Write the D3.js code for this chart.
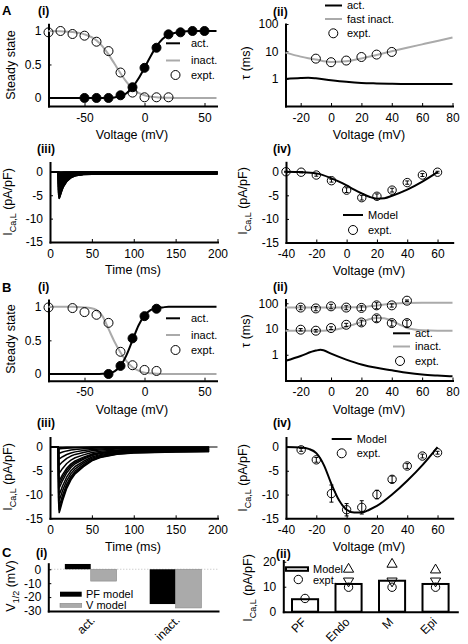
<!DOCTYPE html>
<html><head><meta charset="utf-8">
<script src="https://cdn.jsdelivr.net/npm/d3@7"></script>
<style>
body{margin:0;background:#fff;}
svg{font-family:"Liberation Sans",Arial,Helvetica,sans-serif;}
</style></head><body>
<svg id="fig" width="468" height="644"></svg>
<script>
// ================= DATA =================
// A(i) steady state
const a1InactV = [-80,-70,-60,-50,-40,-30,-20,-10,0,10,20];
const a1InactExpt = [0.98,1.0,0.955,0.93,0.84,0.70,0.38,0.08,0.01,0.01,0.01];
const a1ActV = [-50,-40,-30,-20,-10,0,10,20,30,40,50];
const a1ActExpt = [0,0,0,0.04,0.16,0.45,0.75,0.95,0.98,1.0,1.0];
const a1CurveV = [-80,-70,-60,-50,-40,-35,-30,-25,-20,-15,-10,-5,0,5,10,15,20,25,30,40,50,60];
const a1ActModel = [0,0,0,0,0,0,0.002,0.008,0.025,0.07,0.16,0.29,0.45,0.62,0.77,0.88,0.94,0.97,0.99,1,1,1];
const a1InactModel = [1,0.995,0.985,0.95,0.86,0.77,0.65,0.51,0.37,0.24,0.14,0.075,0.04,0.02,0.01,0.005,0.002,0,0,0,0,0];
// A(ii) time constants
const a2CurveV = [-30,-20,-15,-10,0,10,20,30,40,50,60,70,80];
const a2ActModel = [0.97,1.05,1.07,1.03,0.88,0.77,0.70,0.67,0.65,0.64,0.64,0.64,0.64];
const a2InactModel = [9,6.4,5.6,5,4.1,4.3,5.5,7.4,10,13.5,18,24,32];
const a2ExptV = [-10,0,10,20,30,40];
const a2Expt = [5.4,4.0,4.6,6.2,7.6,9.5];
// A(iii) current traces
const a3Peaks = [-0.1,-0.35,-0.8,-1.4,-2.1,-2.9,-3.8,-4.6,-5.3,-5.7,-5.6,-5.1,-4.5,-3.8,-3.0,-2.1,-1.1];
const a3Time = [10,10.3,11,12,14,16,20,25,30,40,60,200];
const a3Shape = [0,0.85,1,0.92,0.72,0.56,0.36,0.22,0.15,0.1,0.08,0.08];
// A(iv) I-V
const a4ExptV = [-40,-30,-20,-10,0,10,20,30,40,50,60];
const a4Expt = [0,-0.1,-0.7,-1.9,-3.9,-5.5,-5.2,-3.9,-2.3,-0.7,-0.1];
const a4Err = [0.1,0.15,0.25,0.3,0.5,0.5,0.5,0.4,0.35,0.3,0.2];
const a4ModelV = [-40,-30,-20,-10,-5,0,5,10,15,20,25,30,40,50,60];
const a4Model = [0,-0.08,-0.35,-1.4,-2.1,-2.9,-3.8,-4.6,-5.3,-5.7,-5.6,-5.1,-3.8,-2.1,-0.1];
// B(i)
const b1InactV = [-80,-60,-50,-40,-30,-20,-10,0,10];
const b1InactExpt = [0.99,0.98,0.92,0.88,0.76,0.33,0.13,0.06,0.045];
const b1ActV = [-30,-20,-10,0,10];
const b1ActExpt = [0,0.12,0.53,0.86,0.97];
const b1CurveV = [-80,-60,-50,-45,-40,-35,-30,-25,-20,-15,-10,-5,0,5,10,15,20,30,60];
const b1ActModel = [0,0,0,0,0,0.003,0.012,0.04,0.12,0.28,0.5,0.72,0.87,0.95,0.98,0.99,1,1,1];
const b1InactModel = [1,1,0.99,0.98,0.95,0.86,0.67,0.48,0.32,0.19,0.1,0.05,0.02,0.01,0.005,0,0,0,0];
// B(ii)
const b2ActV = [-30,-20,-10,-7,-5,0,10,20,30,40,50,60,70,80];
const b2ActModel = [0.58,0.9,1.45,1.55,1.5,1.1,0.65,0.42,0.31,0.25,0.2,0.17,0.155,0.145];
const b2SlowV = [-30,-10,0,10,20,30,40,50,60,80];
const b2SlowModel = [68,68,68,69,72,82,95,102,104,104];
const b2FastV = [-30,-10,0,5,10,15,20,25,30,35,40,45,50,55,60,70,80];
const b2FastModel = [8.6,8.6,9,10,12,15,19,24,27,26,21,15,11,9.5,8.9,8.6,8.6];
const b2ExptV = [-20,-10,0,10,20,30,40,50];
const b2SlowExpt = [68,63,76,68,66,83,83,126];
const b2SlowErr = [12,12,15,12,14,22,12,8];
const b2FastExpt = [9.4,8.6,10.9,14.6,18,26,17,17];
const b2FastErr = [1.0,1.0,1.3,2,4,7,4,5];
// B(iii)
const b3Peaks = [-0.1,-0.4,-1.3,-2.5,-3.8,-5.5,-7.1,-7.8,-8.6,-10,-11.2,-12.4,-13.2,-13.8];
const b3Time = [10,10.3,11,12,15,20,25,30,40,50,60,80,100,150,190];
const b3Shape = [0,0.85,1,0.96,0.82,0.63,0.5,0.41,0.3,0.21,0.16,0.11,0.09,0.075,0.07];
// B(iv)
const b4ExptV = [-30,-20,-10,0,10,20,30,40,50,60];
const b4Expt = [-0.6,-2.7,-9.8,-13.2,-12.7,-10,-6.8,-4.0,-1.9,-1.2];
const b4Err = [0.3,0.5,1.8,1.3,1.4,0.9,0.7,0.5,0.4,0.3];
const b4ModelV = [-40,-30,-25,-20,-15,-10,-5,0,5,10,15,20,30,40,50,60];
const b4Model = [0,-0.1,-0.4,-1.3,-3.8,-7.8,-11.2,-13.2,-13.8,-13.8,-13.2,-12.4,-10,-7.1,-3.8,0];
// C(i)
const c1Cats = ["act.","inact."];
const c1PF = [3.8,-25];
const c1V = [-8.5,-27.8];
// C(ii)
const c2Cats = ["PF","Endo","M","Epi"];
const c2Model = [5,11.1,12.4,11.1];
const c2ExptCircle = [5.3,9.8,9.8,9.8];
const c2ExptTriUp = [null,17,19,16.7];
const c2ExptTriDown = [null,12.3,12.3,12.3];

// ================= DRAWING =================
const svg = d3.select("#fig");
const F = '"Liberation Sans", Arial, Helvetica, sans-serif';
const GRAY = "#aaaaaa";
const TICK_FS = 12, LAB_FS = 12.5, LEG_FS = 11;

function styleAxis(g){
  g.attr("font-family",F).attr("font-size",TICK_FS);
  g.select(".domain").attr("stroke","#000").attr("stroke-width",2).attr("stroke-linecap","square");
  g.selectAll(".tick line").attr("stroke","#000").attr("stroke-width",1);
  g.selectAll(".tick text").attr("fill","#000");
}
function axes(x, y, xt, yt){
  const gx = svg.append("g").attr("transform",`translate(0,${y.range()[0]})`)
    .call(d3.axisBottom(x).tickValues(xt).tickFormat(d=>String(d)).tickSizeInner(-3).tickSizeOuter(0).tickPadding(7));
  styleAxis(gx);
  const gy = svg.append("g").attr("transform",`translate(${x.range()[0]},0)`)
    .call(d3.axisLeft(y).tickValues(yt).tickFormat(d=>String(d)).tickSizeInner(-3).tickSizeOuter(0).tickPadding(7));
  styleAxis(gy);
}
function curve(x,y,xs,ys,color,w,smooth=true){
  svg.append("path").datum(xs.map((v,i)=>[v,ys[i]]))
    .attr("d", d3.line().x(d=>x(d[0])).y(d=>y(d[1])).curve(smooth?d3.curveMonotoneX:d3.curveLinear))
    .attr("fill","none").attr("stroke",color).attr("stroke-width",w).attr("stroke-linejoin","round");
}
function dots(x,y,xs,ys,filled,r=4.5){
  svg.append("g").selectAll("circle").data(xs.map((v,i)=>[v,ys[i]])).join("circle")
    .attr("cx",d=>x(d[0])).attr("cy",d=>y(d[1])).attr("r",r)
    .attr("fill",filled?"#000":"none").attr("stroke","#000").attr("stroke-width",1);
}
function errbars(x,y,xs,ys,es){
  const g = svg.append("g").attr("stroke","#000").attr("stroke-width",1);
  xs.forEach((v,i)=>{
    const cx=x(v), y1=y(ys[i]-es[i]), y2=y(ys[i]+es[i]);
    g.append("line").attr("x1",cx).attr("x2",cx).attr("y1",y1).attr("y2",y2);
    g.append("line").attr("x1",cx-2).attr("x2",cx+2).attr("y1",y1).attr("y2",y1);
    g.append("line").attr("x1",cx-2).attr("x2",cx+2).attr("y1",y2).attr("y2",y2);
  });
}
function txt(x,y,s,fs,opts={}){
  const t = svg.append("text").attr("x",x).attr("y",y).attr("font-size",fs).attr("font-family",F)
    .attr("fill","#000").text(s);
  if(opts.bold) t.attr("font-weight","bold");
  if(opts.anchor) t.attr("text-anchor",opts.anchor);
  if(opts.dy) t.attr("dy",opts.dy);
  return t;
}
function ylab(x,y,parts){
  const t = svg.append("text").attr("transform",`translate(${x},${y}) rotate(-90)`)
    .attr("text-anchor","middle").attr("font-family",F).attr("font-size",LAB_FS).attr("fill","#000");
  parts.forEach(p=>{
    const ts = t.append("tspan").text(p.t);
    if(p.sub){ ts.attr("font-size",9).attr("dy",4); }
    else if(p.back){ ts.attr("dy",-4); }
  });
}
function diagLabel(x,y,s){
  svg.append("g").attr("transform",`translate(${x},${y})`)
    .append("text").attr("transform","rotate(-45)")
    .attr("text-anchor","end").attr("font-family",F).attr("font-size",TICK_FS).attr("fill","#000").text(s);
}
function legLine(x1,x2,y,color,label,tx){
  svg.append("line").attr("x1",x1).attr("x2",x2).attr("y1",y).attr("y2",y).attr("stroke",color).attr("stroke-width",2);
  txt(tx,y,label,LEG_FS,{dy:"0.35em"});
}
function legCircle(cx,y,label,tx){
  svg.append("circle").attr("cx",cx).attr("cy",y).attr("r",4.5).attr("fill","none").attr("stroke","#000");
  txt(tx,y,label,LEG_FS,{dy:"0.35em"});
}
function traces(x,y,peaks,times,shape,end){
  peaks.forEach(p=>{
    const xs=[0].concat(times), ys=[0].concat(shape.map(s=>s*p));
    curve(x,y,xs,ys,"#000",1.5,false);
  });
  curve(x,y,[0,end],[0,0],"#000",1.2,false);
}

// ---------- A(i) ----------
{
  const x = d3.scaleLinear().domain([-80,60]).range([48.5,216.5]);
  const y = d3.scaleLinear().domain([-0.12,1.1]).range([106,24.3]);
  axes(x,y,[-50,0,50],[0,0.5,1]);
  curve(x,y,a1CurveV,a1InactModel,GRAY,2);
  curve(x,y,a1CurveV,a1ActModel,"#000",2);
  dots(x,y,a1InactV,a1InactExpt,false);
  dots(x,y,a1ActV,a1ActExpt,true);
  legLine(166,180,43.3,"#000","act.",191);
  legLine(166,180,60.5,GRAY,"inact.",191);
  legCircle(175.5,75,"expt.",191);
  txt(132,139,"Voltage (mV)",LAB_FS,{anchor:"middle"});
  ylab(15,65,[{t:"Steady state"}]);
  txt(2,15,"A",13,{bold:true});
  txt(38,15,"(i)",12,{bold:true});
}
// ---------- A(ii) ----------
{
  const x = d3.scaleLinear().domain([-30,80]).range([285.5,452.5]);
  const y = d3.scaleLog().domain([0.1,100]).range([106,24]);
  axes(x,y,[-20,0,20,40,60,80],[1,10,100]);
  curve(x,y,a2CurveV,a2InactModel,GRAY,2);
  curve(x,y,a2CurveV,a2ActModel,"#000",2);
  dots(x,y,a2ExptV,a2Expt,false);
  legLine(325,342,5.5,"#000","act.",347);
  legLine(325,342,19,GRAY,"fast inact.",347);
  legCircle(333.3,33.3,"expt.",347);
  txt(369,139,"Voltage (mV)",LAB_FS,{anchor:"middle"});
  ylab(250,63,[{t:"τ (ms)"}]);
  txt(273,16,"(ii)",12,{bold:true});
}
// ---------- A(iii) ----------
{
  const x = d3.scaleLinear().domain([0,200]).range([50,217.5]);
  const y = d3.scaleLinear().domain([-15,2]).range([242,162.5]);
  axes(x,y,[0,50,100,150,200],[0,-5,-10,-15]);
  const big = d3.min(a3Peaks);
  svg.append("path").datum(a3Time.map((t,i)=>[t,a3Shape[i]*big]))
    .attr("d",d3.area().x(d=>x(d[0])).y0(y(0)).y1(d=>y(d[1])))
    .attr("fill","#000");
  traces(x,y,a3Peaks,a3Time,a3Shape,200);
  txt(133,274,"Time (ms)",LAB_FS,{anchor:"middle"});
  ylab(12,202,[{t:"I"},{t:"Ca,L",sub:true},{t:" (pA/pF)",back:true}]);
  txt(37,153,"(iii)",12,{bold:true});
}
// ---------- A(iv) ----------
{
  const x = d3.scaleLinear().domain([-40,70]).range([286,452.7]);
  const y = d3.scaleLinear().domain([-15,2]).range([242.5,162.3]);
  axes(x,y,[-40,-20,0,20,40,60],[0,-5,-10,-15]);
  curve(x,y,a4ModelV,a4Model,"#000",2);
  errbars(x,y,a4ExptV,a4Expt,a4Err);
  dots(x,y,a4ExptV,a4Expt,false,4.2);
  legLine(343,363,215,"#000","Model",368);
  legCircle(353,230,"expt.",368);
  txt(369,275,"Voltage (mV)",LAB_FS,{anchor:"middle"});
  ylab(246.5,201,[{t:"I"},{t:"Ca,L",sub:true},{t:" (pA/pF)",back:true}]);
  txt(273,153,"(iv)",12,{bold:true});
}
// ---------- B(i) ----------
{
  const x = d3.scaleLinear().domain([-80,60]).range([48.5,216.5]);
  const y = d3.scaleLinear().domain([-0.1,1.1]).range([380.7,300]);
  axes(x,y,[-50,0,50],[0,0.5,1]);
  curve(x,y,b1CurveV,b1InactModel,GRAY,2);
  curve(x,y,b1CurveV,b1ActModel,"#000",2);
  dots(x,y,b1InactV,b1InactExpt,false);
  dots(x,y,b1ActV,b1ActExpt,true);
  legLine(166,180,318.3,"#000","act.",191);
  legLine(166,180,335,GRAY,"inact.",191);
  legCircle(175.5,350,"expt.",191);
  txt(132,414,"Voltage (mV)",LAB_FS,{anchor:"middle"});
  ylab(15,339,[{t:"Steady state"}]);
  txt(2,292,"B",13,{bold:true});
  txt(38,291,"(i)",12,{bold:true});
}
// ---------- B(ii) ----------
{
  const x = d3.scaleLinear().domain([-30,80]).range([285.5,452.5]);
  const y = d3.scaleLog().domain([0.1,140]).range([380.5,299.5]);
  axes(x,y,[-20,0,20,40,60,80],[1,10,100]);
  curve(x,y,b2SlowV,b2SlowModel,GRAY,2);
  curve(x,y,b2FastV,b2FastModel,GRAY,2);
  curve(x,y,b2ActV,b2ActModel,"#000",2);
  errbars(x,y,b2ExptV,b2SlowExpt,b2SlowErr);
  errbars(x,y,b2ExptV,b2FastExpt,b2FastErr);
  dots(x,y,b2ExptV,b2SlowExpt,false);
  dots(x,y,b2ExptV,b2FastExpt,false);
  legLine(393,410,333.3,"#000","act.",415);
  legLine(393,410,346.5,GRAY,"inact.",415);
  legCircle(400,361,"expt.",415);
  txt(369,414,"Voltage (mV)",LAB_FS,{anchor:"middle"});
  ylab(250,331,[{t:"τ (ms)"}]);
  txt(273,291,"(ii)",12,{bold:true});
}
// ---------- B(iii) ----------
{
  const x = d3.scaleLinear().domain([0,200]).range([50,217.5]);
  const y = d3.scaleLinear().domain([-15,2]).range([518.3,437.5]);
  axes(x,y,[0,50,100,150,200],[0,-5,-10,-15]);
  traces(x,y,b3Peaks,b3Time,b3Shape,200);
  txt(133,551,"Time (ms)",LAB_FS,{anchor:"middle"});
  ylab(12,477,[{t:"I"},{t:"Ca,L",sub:true},{t:" (pA/pF)",back:true}]);
  txt(37,427,"(iii)",12,{bold:true});
}
// ---------- B(iv) ----------
{
  const x = d3.scaleLinear().domain([-40,70]).range([286,452.7]);
  const y = d3.scaleLinear().domain([-15,2]).range([518.3,437.5]);
  axes(x,y,[-40,-20,0,20,40,60],[0,-5,-10,-15]);
  curve(x,y,b4ModelV,b4Model,"#000",2);
  errbars(x,y,b4ExptV,b4Expt,b4Err);
  dots(x,y,b4ExptV,b4Expt,false,4.2);
  legLine(331.7,351.7,439,"#000","Model",356.7);
  legCircle(341.7,453.3,"expt.",356.7);
  txt(369,551,"Voltage (mV)",LAB_FS,{anchor:"middle"});
  ylab(246.5,478,[{t:"I"},{t:"Ca,L",sub:true},{t:" (pA/pF)",back:true}]);
  txt(273,427,"(iv)",12,{bold:true});
}
// ---------- C(i) ----------
{
  const x = d3.scaleBand().domain(c1Cats).range([48.3,218]).paddingInner(0.39).paddingOuter(0.195);
  const y = d3.scaleLinear().domain([-30,4]).range([611,563.7]);
  svg.append("line").attr("x1",48.3).attr("x2",218).attr("y1",y(0)).attr("y2",y(0))
    .attr("stroke","#bbb").attr("stroke-width",1).attr("stroke-dasharray","1,2");
  const bw = x.bandwidth()/2;
  svg.append("g").selectAll("rect").data(c1Cats).join("rect")
    .attr("x",d=>x(d)).attr("width",bw)
    .attr("y",(d,i)=>y(Math.max(0,c1PF[i]))).attr("height",(d,i)=>Math.abs(y(c1PF[i])-y(0)))
    .attr("fill","#000");
  svg.append("g").selectAll("rect").data(c1Cats).join("rect")
    .attr("x",d=>x(d)+bw).attr("width",bw)
    .attr("y",(d,i)=>y(Math.max(0,c1V[i]))).attr("height",(d,i)=>Math.abs(y(c1V[i])-y(0)))
    .attr("fill","#aaa").attr("stroke","#888").attr("stroke-width",0.6);
  const gx = svg.append("g").attr("transform",`translate(0,${y.range()[0]})`)
    .call(d3.axisBottom(x).tickSize(0).tickFormat(""));
  styleAxis(gx);
  const gy = svg.append("g").attr("transform",`translate(48.3,0)`)
    .call(d3.axisLeft(y).tickValues([0,-10,-20,-30]).tickFormat(d=>String(d)).tickSizeInner(-3).tickSizeOuter(0).tickPadding(7));
  styleAxis(gy);
  c1Cats.forEach(c=>diagLabel(x(c)+x.bandwidth()/2+5, y.range()[0]+10, c));
  svg.append("rect").attr("x",60).attr("y",591.7).attr("width",21.7).attr("height",5).attr("fill","#000");
  txt(86,594.2,"PF model",LEG_FS,{dy:"0.35em"});
  svg.append("rect").attr("x",60).attr("y",603.3).attr("width",21.7).attr("height",4).attr("fill","#aaa").attr("stroke","#888").attr("stroke-width",0.6);
  txt(86,605.3,"V model",LEG_FS,{dy:"0.35em"});
  ylab(15,586,[{t:"V"},{t:"1/2",sub:true},{t:" (mV)",back:true}]);
  txt(2,557,"C",13,{bold:true});
  txt(36,557,"(i)",12,{bold:true});
}
// ---------- C(ii) ----------
{
  const x = d3.scaleBand().domain(c2Cats).range([283.3,457.3]).paddingInner(0.4).paddingOuter(0.2);
  const y = d3.scaleLinear().domain([0,20.5]).range([611.7,560.5]);
  svg.append("g").selectAll("rect").data(c2Cats).join("rect")
    .attr("x",d=>x(d)).attr("width",x.bandwidth())
    .attr("y",(d,i)=>y(c2Model[i])).attr("height",(d,i)=>y(0)-y(c2Model[i]))
    .attr("fill","#fff").attr("stroke","#000").attr("stroke-width",2);
  const gx = svg.append("g").attr("transform",`translate(0,${y.range()[0]})`)
    .call(d3.axisBottom(x).tickSize(0).tickFormat(""));
  styleAxis(gx);
  const gy = svg.append("g").attr("transform",`translate(283.3,0)`)
    .call(d3.axisLeft(y).tickValues([0,10,20]).tickFormat(d=>String(d)).tickSizeInner(-3).tickSizeOuter(0).tickPadding(7));
  styleAxis(gy);
  const cx = c=>x(c)+x.bandwidth()/2;
  c2Cats.forEach((c,i)=>{
    svg.append("circle").attr("cx",cx(c)).attr("cy",y(c2ExptCircle[i])).attr("r",4.2).attr("fill","none").attr("stroke","#000");
    if(c2ExptTriUp[i]!=null) svg.append("path").attr("d",d3.symbol(d3.symbolTriangle,45)())
      .attr("transform",`translate(${cx(c)},${y(c2ExptTriUp[i])})`).attr("fill","none").attr("stroke","#000");
    if(c2ExptTriDown[i]!=null) svg.append("path").attr("d",d3.symbol(d3.symbolTriangle,45)())
      .attr("transform",`translate(${cx(c)},${y(c2ExptTriDown[i])}) rotate(180)`).attr("fill","none").attr("stroke","#000");
    diagLabel(cx(c)+2, y.range()[0]+11, c);
  });
  svg.append("rect").attr("x",286).attr("y",567.3).attr("width",22).attr("height",3.5).attr("fill","#fff").attr("stroke","#000").attr("stroke-width",2);
  txt(313,569,"Model",LEG_FS,{dy:"0.35em"});
  svg.append("circle").attr("cx",298.3).attr("cy",579.5).attr("r",4.2).attr("fill","none").attr("stroke","#000");
  txt(313,580,"expt.",LEG_FS,{dy:"0.35em"});
  ylab(252,588,[{t:"I"},{t:"Ca,L",sub:true},{t:" (pA/pF)",back:true}]);
  txt(276,558,"(ii)",12,{bold:true});
}
</script>
</body></html>
